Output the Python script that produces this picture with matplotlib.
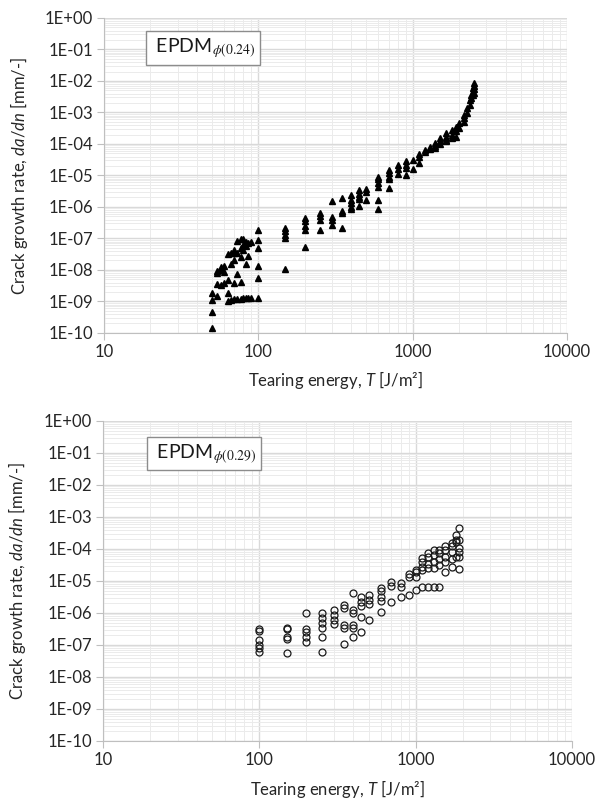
import numpy as np
import matplotlib.pyplot as plt
from matplotlib.ticker import LogLocator, FuncFormatter, NullFormatter

plt.rcParams['font.family'] = ['Lato', 'DejaVu Sans']
plt.rcParams['mathtext.fontset'] = 'custom'
plt.rcParams['mathtext.rm'] = 'Lato'
plt.rcParams['mathtext.it'] = 'Lato:italic'

# EPDM phi(0.24): tearing energy T [J/m2] and crack growth rate da/dn [mm/-]
t_024 = [50, 50, 50, 50,
         54, 54, 54, 54,
         57, 57, 57,
         60, 60, 60,
         64, 64, 64, 64,
         67, 67, 67,
         70, 70, 70, 70, 70,
         73, 73, 73, 73,
         77, 77, 77, 77, 77,
         80, 80, 80, 80,
         83, 83, 83, 83,
         86, 86, 86,
         89, 89,
         100, 100, 100, 100, 100, 100,
         150, 150, 150, 150, 150,
         200, 200, 200, 200, 200,
         250, 250, 250, 250,
         300, 300, 300, 300,
         350, 350, 350, 350,
         400, 400, 400, 400, 400,
         450, 450, 450, 450, 450,
         500, 500, 500,
         600, 600, 600, 600, 600, 600,
         700, 700, 700, 700, 700,
         800, 800, 800,
         900, 900, 900, 900,
         1000, 1000,
         1100, 1100, 1100,
         1200, 1200,
         1300, 1300,
         1400, 1400, 1400,
         1500, 1500, 1500,
         1650, 1650, 1650, 1650,
         1800, 1800, 1800,
         1900, 1900, 1900,
         2000, 2000,
         2150, 2150, 2150,
         2250, 2250,
         2350, 2350,
         2400, 2400,
         2450, 2450, 2450,
         2500, 2500, 2500, 2500]
rate_024 = [1.4e-10, 4.7e-10, 1.1e-09, 1.9e-09,
            1.5e-09, 3.6e-09, 7.8e-09, 9.3e-09,
            3.3e-09, 1.0e-08, 1.2e-08,
            4.0e-09, 8.9e-09, 1.35e-08,
            1.0e-09, 1.8e-09, 3.2e-08, 4.8e-09,
            3.4e-08, 1.6e-08, 1.1e-09,
            3.5e-08, 2.1e-08, 3.8e-09, 1.2e-09, 4.3e-08,
            7.4e-09, 8.5e-08, 3.5e-08, 1.2e-09,
            9.3e-08, 2.6e-08, 5.0e-08, 1.2e-09, 4.2e-09,
            9.3e-08, 4.3e-08, 6.3e-08, 1.25e-09,
            1.6e-08, 5.6e-08, 1.25e-09, 7.6e-08,
            7.1e-08, 1.3e-09, 2.8e-08,
            8.0e-08, 1.3e-09,
            1.9e-07, 8.9e-08, 4.9e-08, 1.3e-08, 5.5e-09, 1.3e-09,
            2.1e-07, 1.7e-07, 1.3e-07, 1.0e-07, 1.1e-08,
            4.4e-07, 3.5e-07, 2.4e-07, 1.9e-07, 5.5e-08,
            6.3e-07, 5.0e-07, 3.9e-07, 1.9e-07,
            1.6e-06, 4.9e-07, 3.9e-07, 2.7e-07,
            1.9e-06, 7.6e-07, 6.6e-07, 2.1e-07,
            2.4e-06, 1.7e-06, 1.3e-06, 1.0e-06, 8.5e-07,
            3.5e-06, 2.6e-06, 2.1e-06, 1.8e-06, 1.1e-06,
            3.6e-06, 3.0e-06, 1.7e-06,
            9.1e-06, 7.6e-06, 5.9e-06, 4.4e-06, 1.7e-06, 8.5e-07,
            1.5e-05, 1.2e-05, 9.1e-06, 7.6e-06, 3.9e-06,
            2.1e-05, 1.6e-05, 1.1e-05,
            2.8e-05, 2.1e-05, 1.7e-05, 1.05e-05,
            3.2e-05, 1.6e-05,
            4.8e-05, 3.9e-05, 2.5e-05,
            6.5e-05, 5.4e-05,
            8.3e-05, 6.8e-05,
            1.05e-04, 8.7e-05, 7.4e-05,
            1.5e-04, 1.2e-04, 1.0e-04,
            2.2e-04, 1.7e-04, 1.35e-04, 1.2e-04,
            2.8e-04, 1.9e-04, 1.5e-04,
            3.5e-04, 2.5e-04, 1.7e-04,
            4.6e-04, 3.2e-04,
            8.3e-04, 6.5e-04, 5.1e-04,
            1.35e-03, 9.3e-04,
            2.5e-03, 1.7e-03,
            3.6e-03, 2.8e-03,
            5.9e-03, 4.6e-03, 3.6e-03,
            8.5e-03, 6.9e-03, 5.5e-03, 4.3e-03]

# EPDM phi(0.29)
t_029 = [100, 100, 100, 100, 100, 100,
         150, 150, 150, 150, 150,
         200, 200, 200, 200, 200,
         250, 250, 250, 250, 250, 250,
         300, 300, 300, 300,
         350, 350, 350, 350, 350,
         400, 400, 400, 400, 400, 400,
         450, 450, 450, 450, 450,
         500, 500, 500, 500,
         600, 600, 600, 600, 600,
         700, 700, 700,
         800, 800, 800,
         900, 900, 900,
         1000, 1000, 1000, 1000,
         1100, 1100, 1100, 1100, 1100,
         1200, 1200, 1200, 1200, 1200,
         1300, 1300, 1300, 1300, 1300,
         1400, 1400, 1400, 1400, 1400,
         1550, 1550, 1550, 1550, 1550,
         1700, 1700, 1700, 1700, 1700,
         1800, 1800, 1800, 1800,
         1900, 1900, 1900, 1900, 1900, 1900]
rate_029 = [3.1e-07, 2.8e-07, 1.45e-07, 1.0e-07, 7.9e-08, 6.2e-08,
            3.5e-07, 3.1e-07, 1.8e-07, 1.5e-07, 5.5e-08,
            9.8e-07, 3.1e-07, 2.6e-07, 1.8e-07, 1.26e-07,
            9.8e-07, 6.8e-07, 4.8e-07, 3.3e-07, 1.8e-07, 6.2e-08,
            1.2e-06, 8.7e-07, 6.0e-07, 4.6e-07,
            1.8e-06, 1.4e-06, 4.2e-07, 3.3e-07, 1.07e-07,
            4.1e-06, 1.2e-06, 9.8e-07, 4.2e-07, 3.3e-07, 1.8e-07,
            3.2e-06, 2.2e-06, 1.6e-06, 7.6e-07, 2.5e-07,
            3.6e-06, 2.6e-06, 1.9e-06, 6.0e-07,
            5.9e-06, 4.7e-06, 3.2e-06, 2.4e-06, 1.05e-06,
            9.5e-06, 7.1e-06, 2.2e-06,
            8.5e-06, 6.3e-06, 3.2e-06,
            1.7e-05, 1.3e-05, 3.6e-06,
            1.95e-05, 1.35e-05, 2.2e-05, 5.2e-06,
            5.2e-05, 4.0e-05, 2.75e-05, 2.2e-05, 6.3e-06,
            7.4e-05, 5.8e-05, 3.4e-05, 2.5e-05, 6.6e-06,
            9.3e-05, 6.5e-05, 4.0e-05, 2.5e-05, 6.6e-06,
            9.3e-05, 7.4e-05, 5.0e-05, 3.2e-05, 6.3e-06,
            1.2e-04, 9.3e-05, 5.8e-05, 4.0e-05, 1.9e-05,
            1.5e-04, 1.2e-04, 7.9e-05, 5.0e-05, 2.75e-05,
            2.7e-04, 1.9e-04, 1.7e-04, 5.8e-05,
            4.5e-04, 1.9e-04, 1.07e-04, 8.3e-05, 5.8e-05, 2.3e-05]

x_ticks = [10, 100, 1000, 10000]
x_ticklabels = ['10', '100', '1000', '10000']


def decorate(ax, tag, box_xy):
    ax.set_xscale('log')
    ax.set_yscale('log')
    ax.set_xlim(10, 10000)
    ax.set_ylim(1e-10, 1)
    ax.set_yticks([10.0 ** e for e in range(-10, 1)])
    ax.yaxis.set_major_formatter(
        FuncFormatter(lambda v, p: f"1E{int(round(np.log10(v))):+03d}"))
    ax.set_xticks(x_ticks)
    ax.set_xticklabels(x_ticklabels)
    ax.xaxis.set_minor_locator(LogLocator(base=10, subs=np.arange(2, 10), numticks=20))
    ax.yaxis.set_minor_locator(LogLocator(base=10, subs=np.arange(2, 10), numticks=20))
    ax.xaxis.set_minor_formatter(NullFormatter())
    ax.yaxis.set_minor_formatter(NullFormatter())
    ax.grid(which='major', color='#d9d9d9', lw=1.0)
    ax.grid(which='minor', color='#ebebeb', lw=0.7)
    ax.set_axisbelow(True)
    for s in ['top', 'right']:
        ax.spines[s].set_visible(False)
    for s in ['left', 'bottom']:
        ax.spines[s].set_color('#bfbfbf')
    ax.tick_params(which='major', length=5, color='#bfbfbf', labelsize=12,
                   labelcolor='#262626', pad=3)
    ax.tick_params(which='minor', length=0)
    ax.set_ylabel(r"Crack growth rate, $\mathit{da/dn}$ [mm/-]", fontsize=12,
                  color='#262626')
    ax.yaxis.set_label_coords(-0.16, 0.5)
    ax.set_xlabel(r"Tearing energy, $\mathit{T}$ [J/m²]", fontsize=12, color='#262626')
    ax.xaxis.set_label_coords(0.5, -0.115)
    ax.text(box_xy[0], box_xy[1], " EPDM" + r"$_{\phi\mathrm{(" + tag + r")}}\ $",
            transform=ax.transAxes, ha='center', va='center', fontsize=14,
            math_fontfamily='stix', color='#1a1a1a',
            bbox=dict(boxstyle='square,pad=0.25', fc='white', ec='#8c8c8c', lw=1))


fig = plt.figure(figsize=(6, 8), dpi=100)
ax1 = fig.add_axes([0.1733, 0.5838, 0.7717, 0.3937])
ax2 = fig.add_axes([0.1717, 0.0738, 0.7817, 0.4])

ax1.plot(t_024, rate_024, linestyle='none', marker='^', markersize=4.5,
         color='black')
ax2.plot(t_029, rate_029, linestyle='none', marker='o', markersize=5,
         mfc='none', mec='#1a1a1a', mew=0.9)

decorate(ax1, '0.24', (0.213, 0.905))
decorate(ax2, '0.29', (0.216, 0.898))

fig.savefig('out.png', dpi=100)
